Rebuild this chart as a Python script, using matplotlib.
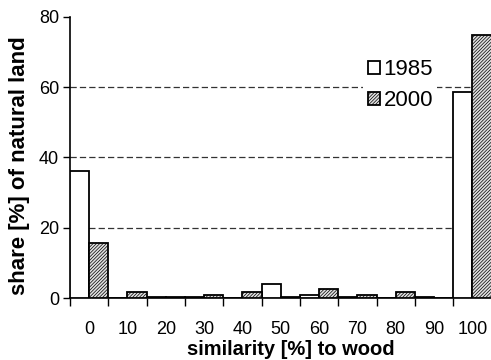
import numpy as np
import matplotlib
matplotlib.use("Agg")
import matplotlib.pyplot as plt

# similarity classes and shares of natural land (%)
categories = ["0", "10", "20", "30", "40", "50", "60", "70", "80", "90", "100"]
share_1985 = [36.3, 0.0, 0.4, 0.3, 0.0, 4.0, 0.9, 0.3, 0.0, 0.3, 58.7]
share_2000 = [15.7, 1.7, 0.3, 0.8, 1.7, 0.3, 2.5, 0.8, 1.7, 0.0, 74.9]
yticks = [0, 20, 40, 60, 80]

plt.rcParams['font.family'] = ['Liberation Sans', 'DejaVu Sans']
plt.rcParams['hatch.color'] = '#444444'
plt.rcParams['hatch.linewidth'] = 0.5

fig = plt.figure(figsize=(4.91, 3.6), dpi=100)
ax = fig.add_axes([0.1426, 0.172, 0.86, 0.781])

x = np.arange(len(categories))
ax.bar(x - 0.25, share_1985, width=0.5, facecolor='white', edgecolor='black',
       linewidth=1.3, label='1985', zorder=3)
ax.bar(x + 0.25, share_2000, width=0.5, facecolor='#e0e0e0', edgecolor='black',
       linewidth=1.3, hatch='//////////', label='2000', zorder=3)

for g in yticks[1:-1]:
    ax.axhline(g, color='#333333', linestyle=(0, (5, 2.5)), linewidth=0.9, zorder=1)

ax.set_xlim(-0.5, len(categories) - 0.5 + 0.02)
ax.set_ylim(0, 80)
ax.set_yticks(yticks)
ax.set_xticks(x)
ax.set_xticklabels(categories)
ax.set_xticks(np.arange(len(categories) + 1) - 0.5, minor=True)
ax.tick_params(axis='x', which='major', length=0, pad=16.5, labelsize=13)
ax.tick_params(axis='x', which='minor', length=6, width=1.0, direction='out')
ax.tick_params(axis='y', length=5, width=1.0, labelsize=13, pad=3)

for s in ['top', 'right']:
    ax.spines[s].set_visible(False)
ax.spines['left'].set_linewidth(1.2)
ax.spines['bottom'].set_linewidth(1.2)

ax.set_xlabel('similarity [%] to wood', fontsize=14.5, fontweight='bold')
ax.set_ylabel('share [%] of natural land', fontsize=16, fontweight='bold')
ax.xaxis.set_label_coords(0.524, -0.148)
ax.yaxis.set_label_coords(-0.095, 0.47)

leg = ax.legend(loc='upper left', bbox_to_anchor=(0.695, 0.865), frameon=True,
                fontsize=16, handlelength=0.55, handleheight=0.55,
                handletextpad=0.15, labelspacing=0.45, borderpad=0.2,
                borderaxespad=0)
leg.get_frame().set_edgecolor('none')
leg.get_frame().set_facecolor('white')
leg.get_frame().set_alpha(1)
leg.set_zorder(5)

fig.savefig('out.png', dpi=100)
